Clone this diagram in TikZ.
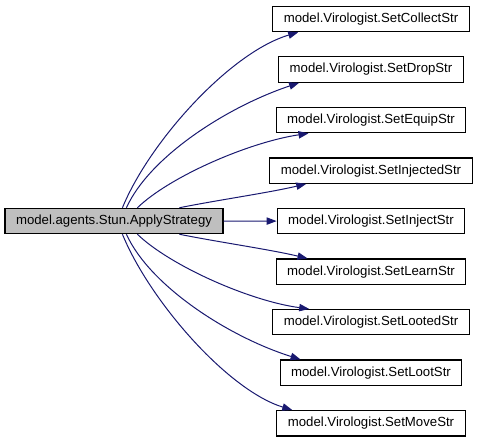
\documentclass[tikz,border=0pt]{standalone}
\usepackage{fontspec}
\setmainfont{Liberation Sans}
\usepackage{tikz}
\usetikzlibrary{arrows.meta,positioning,calc}
\definecolor{edgeblue}{HTML}{191970}
\definecolor{callergray}{HTML}{BFBFBF}

\begin{document}
\begin{tikzpicture}[
  x=0.75pt, y=-0.75pt,
  node distance=18pt,
  fn/.style={draw,line width=0.9pt,inner xsep=8.25pt,inner ysep=0pt,minimum height=19pt,font=\fontsize{9.9}{12}\selectfont,fill=white},
  caller/.style={fn,fill=callergray},
  arr/.style={-{Triangle[length=7.5pt,width=5.5pt]},line width=0.75pt,edgeblue},
]
\useasboundingbox (0,0) rectangle (477,443);
\node[caller] (apply) at (114,221) {model.agents.Stun.ApplyStrategy};
\node[fn] (collect) at (371,19) {model.Virologist.SetCollectStr};
\node[fn,below=of collect] (drop) {model.Virologist.SetDropStr};
\node[fn,below=of drop] (equip) {model.Virologist.SetEquipStr};
\node[fn,below=of equip] (injected) {model.Virologist.SetInjectedStr};
\node[fn,below=of injected] (inject) {model.Virologist.SetInjectStr};
\node[fn,below=of inject] (learn) {model.Virologist.SetLearnStr};
\node[fn,below=of learn] (looted) {model.Virologist.SetLootedStr};
\node[fn,below=of looted] (loot) {model.Virologist.SetLootStr};
\node[fn,below=of loot] (move) {model.Virologist.SetMoveStr};
% calls above the caller
\draw[arr] ($(apply.north west)+(118,0)$) .. controls +(27,-66) and +(-68,20) .. ($(collect.south west)+(26,0)$);
\draw[arr] ($(apply.north west)+(122,0)$) .. controls +(23,-51) and +(-72,24) .. ($(drop.south west)+(21,0)$);
\draw[arr] ($(apply.north west)+(133,0)$) .. controls +(32,-31) and +(-60,9) .. ($(equip.south west)+(33,0)$);
\draw[arr] ($(apply.north west)+(175,0)$) .. controls +(40,-8) and +(-38,9) .. ($(injected.south west)+(37,0)$);
% straight call
\draw[arr] (apply) -- (inject);
% calls below the caller
\draw[arr] ($(apply.south west)+(175,0)$) .. controls +(40,8) and +(-38,-9) .. ($(learn.north west)+(32,0)$);
\draw[arr] ($(apply.south west)+(133,0)$) .. controls +(32,31) and +(-60,-8) .. ($(looted.north west)+(37,0)$);
\draw[arr] ($(apply.south west)+(122,0)$) .. controls +(23,51) and +(-73,-23) .. ($(loot.north west)+(21,0)$);
\draw[arr] ($(apply.south west)+(118,0)$) .. controls +(27,66) and +(-65,-20) .. ($(move.north west)+(16,0)$);
\end{tikzpicture}
\end{document}
